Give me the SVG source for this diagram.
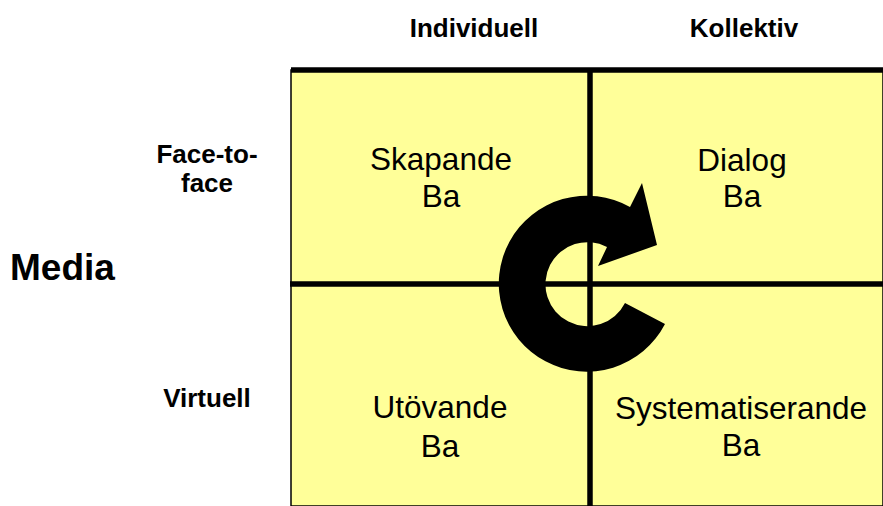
<svg xmlns="http://www.w3.org/2000/svg" width="883" height="506" viewBox="0 0 883 506">
<style>
.hdr{font-family:"Liberation Sans",Arial,sans-serif;font-weight:bold;font-size:26px;fill:#000;text-anchor:middle}
.big{font-family:"Liberation Sans",Arial,sans-serif;font-weight:bold;font-size:37px;fill:#000}
.cell{font-family:"Liberation Sans",Arial,sans-serif;font-size:31.5px;fill:#000;text-anchor:middle}
.grid{stroke:#000;stroke-width:5.5;fill:none}
</style>
<rect width="883" height="506" fill="#fff"/>
<g id="grid">
<rect x="291" y="70" width="592" height="436" fill="#FFFF99" stroke="#000" stroke-width="1.5"/>
<line class="grid" x1="291" y1="70" x2="883" y2="70"/>
<line class="grid" x1="290" y1="284" x2="883" y2="284"/>
<line class="grid" x1="590" y1="70" x2="590" y2="506"/>
</g>
<g id="labels">
<text class="hdr" x="474" y="37">Individuell</text>
<text class="hdr" x="744" y="37">Kollektiv</text>
<text class="hdr" x="207" y="163">Face-to-</text>
<text class="hdr" x="207" y="192">face</text>
<text class="hdr" x="207" y="407">Virtuell</text>
<text class="big" x="10" y="280">Media</text>
</g>
<g id="skapande"><text class="cell" x="441" y="170">Skapande</text><text class="cell" x="441" y="207">Ba</text></g>
<g id="dialog"><text class="cell" x="742" y="171">Dialog</text><text class="cell" x="742" y="207">Ba</text></g>
<g id="utovande"><text class="cell" x="440" y="418">Utövande</text><text class="cell" x="440" y="457">Ba</text></g>
<g id="systematiserande"><text class="cell" x="741" y="419">Systematiserande</text><text class="cell" x="741" y="456">Ba</text></g>
<g id="connectors">
<path d="M665,324 A88,88 0 1 1 630,207 L642,183 L657,245 L598,266 L607,247 A42,42 0 1 0 625,303 Z" fill="#000"/>
</g>
</svg>
